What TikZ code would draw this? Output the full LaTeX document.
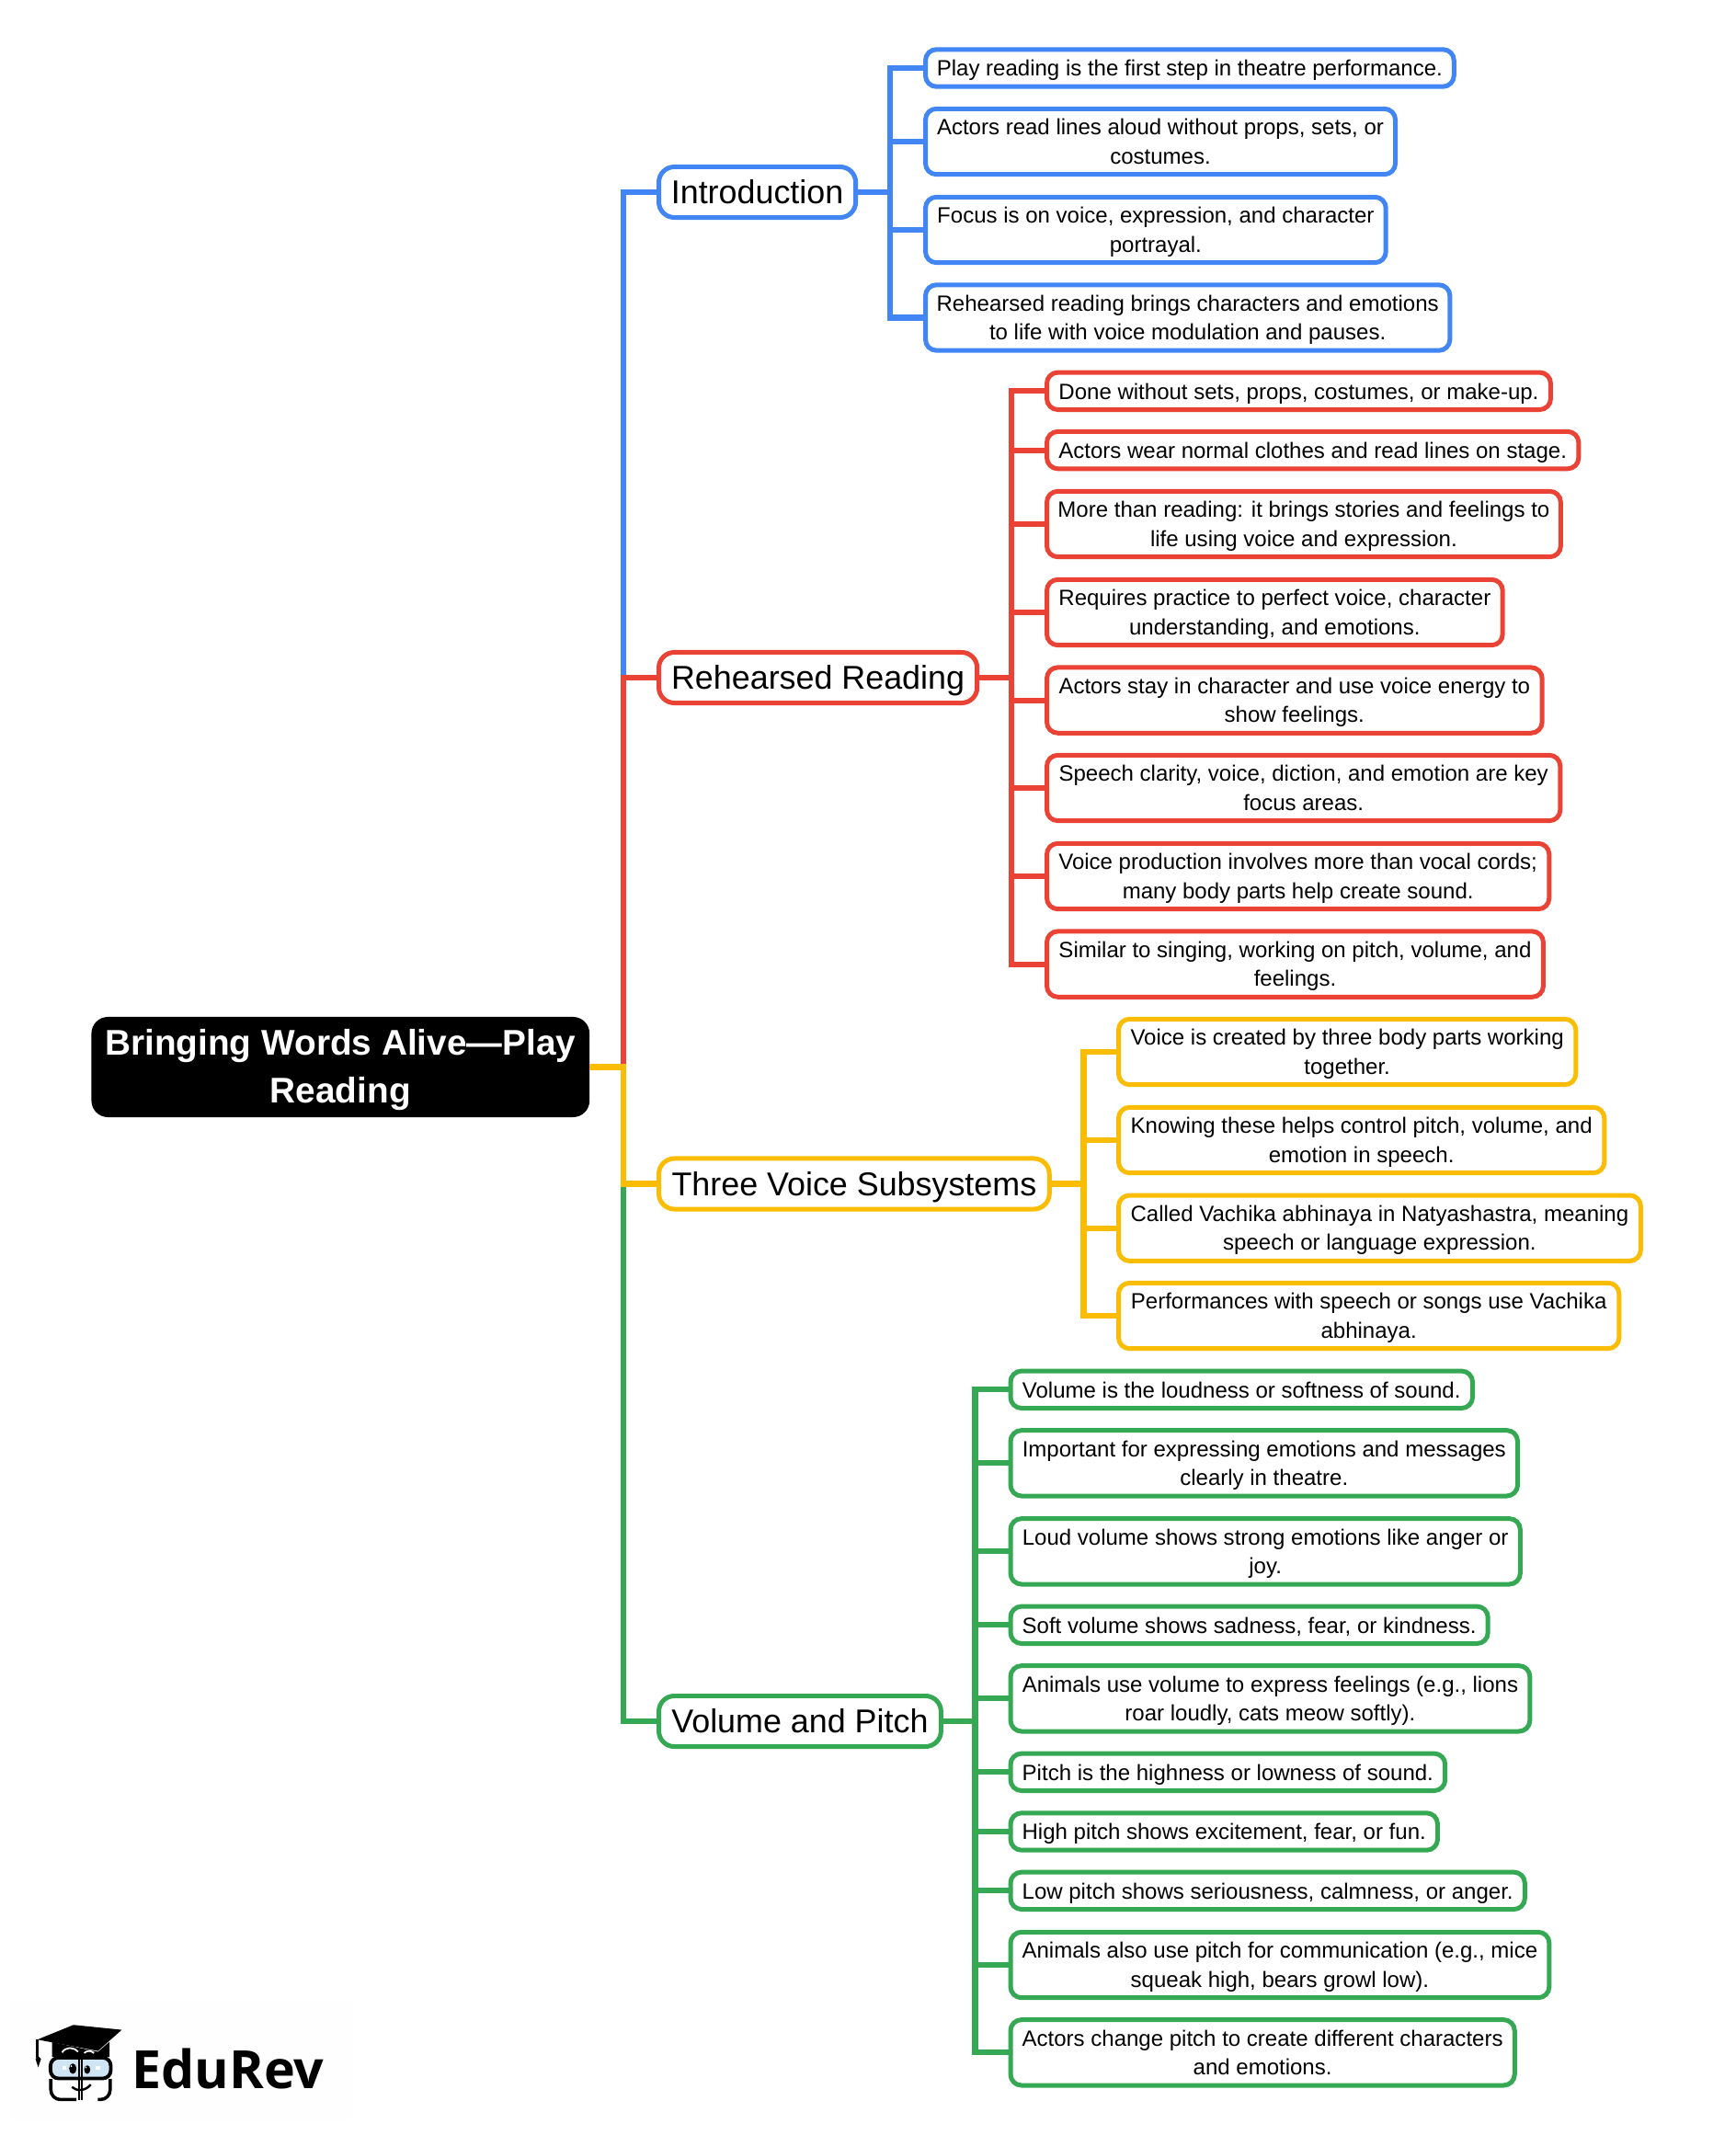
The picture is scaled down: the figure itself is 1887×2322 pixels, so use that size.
\documentclass[tikz,border=0pt]{standalone}
\usepackage{fontspec}
\setmainfont{Liberation Sans}
\newfontfamily\logofont{Open Sans}
\definecolor{introcolor}{HTML}{4285F4}
\definecolor{rehearsedcolor}{HTML}{EA4335}
\definecolor{voicecolor}{HTML}{FBBC04}
\definecolor{volumecolor}{HTML}{34A853}
\definecolor{glasscolor}{HTML}{CFE5F3}

\begin{document}
\begin{tikzpicture}[x=0.01cm, y=-0.01cm,
		wd/.style={minimum width=#1*0.28453pt},
		box/.style={draw, anchor=west, outer sep=0pt, inner sep=0pt, align=center, line width=1.42pt},
		leaf/.style={box, rounded corners=3.4pt, minimum height=11.5pt, font=\fontsize{6.83}{8.85}\selectfont,
			execute at begin node={\rule{0pt}{7pt}}, execute at end node={\rule[-2pt]{0pt}{2pt}}},
		leaftwo/.style={leaf, minimum height=20.3pt, execute at begin node={\rule{0pt}{15.7pt}}},
		branch/.style={box, rounded corners=4.8pt, minimum height=15.65pt, font=\fontsize{10.2}{12}\selectfont,
			execute at begin node={\rule{0pt}{10.3pt}}, execute at end node={\rule[-3pt]{0pt}{3pt}}},
		wire/.style={line width=1.75pt}]
	\useasboundingbox (0, 0) rectangle (1887, 2322);

	\node [fill=black, text=white, outer sep=0pt, inner sep=0pt, align=center, rounded corners=5.1pt, wd=541.4, minimum height=31pt, font=\bfseries\fontsize{11.03}{14.6}\selectfont,
		execute at begin node={\rule{0pt}{25.9pt}}, execute at end node={\rule[-4pt]{0pt}{4pt}}] (root) at (370.3, 1160.5) {Bringing Words Alive—Play\\Reading};
	\coordinate (trunk) at (678, 1160.5);

	\node [branch, draw=introcolor, wd=214] (intro) at (716.5, 209) {Introduction};
	\node [branch, draw=rehearsedcolor, wd=346] (rehearsed) at (716.5, 737) {Rehearsed Reading};
	\node [branch, draw=voicecolor, wd=424.5] (voice) at (716.5, 1287.5) {Three Voice Subsystems};
	\node [branch, draw=volumecolor, wd=306.7] (volume) at (716.5, 1872) {Volume and Pitch};

	\coordinate (introbus) at (968, 209);
	\coordinate (rehearsedbus) at (1100, 737);
	\coordinate (voicebus) at (1178.5, 1287.5);
	\coordinate (volumebus) at (1060.5, 1872);

	\node [leaf, draw=introcolor, wd=574.4] (intro1) at (1006.5, 74) {Play reading is the first step in theatre performance.};
	\node [leaftwo, draw=introcolor, wd=510.7] (intro2) at (1006.5, 154) {Actors read lines aloud without props, sets, or\\costumes.};
	\node [leaftwo, draw=introcolor, wd=500.4] (intro3) at (1006.5, 250) {Focus is on voice, expression, and character\\portrayal.};
	\node [leaftwo, draw=introcolor, wd=570] (intro4) at (1006.5, 345.5) {Rehearsed reading brings characters and emotions\\to life with voice modulation and pauses.};

	\node [leaf, draw=rehearsedcolor, wd=547.6] (rehearsed1) at (1138.5, 425.3) {Done without sets, props, costumes, or make-up.};
	\node [leaf, draw=rehearsedcolor, wd=578] (rehearsed2) at (1138.5, 489.6) {Actors wear normal clothes and read lines on stage.};
	\node [leaftwo, draw=rehearsedcolor, wd=558.5] (rehearsed3) at (1138.5, 570) {More than reading: it brings stories and feelings to\\life using voice and expression.};
	\node [leaftwo, draw=rehearsedcolor, wd=495.4] (rehearsed4) at (1138.5, 666) {Requires practice to perfect voice, character\\understanding, and emotions.};
	\node [leaftwo, draw=rehearsedcolor, wd=538.3] (rehearsed5) at (1138.5, 761.6) {Actors stay in character and use voice energy to\\show feelings.};
	\node [leaftwo, draw=rehearsedcolor, wd=558] (rehearsed6) at (1138.5, 857) {Speech clarity, voice, diction, and emotion are key\\focus areas.};
	\node [leaftwo, draw=rehearsedcolor, wd=546] (rehearsed7) at (1138.5, 953) {Voice production involves more than vocal cords;\\many body parts help create sound.};
	\node [leaftwo, draw=rehearsedcolor, wd=539.6] (rehearsed8) at (1138.5, 1048.6) {Similar to singing, working on pitch, volume, and\\feelings.};

	\node [leaftwo, draw=voicecolor, wd=497] (voice1) at (1216.5, 1144) {Voice is created by three body parts working\\together.};
	\node [leaftwo, draw=voicecolor, wd=528] (voice2) at (1216.5, 1240) {Knowing these helps control pitch, volume, and\\emotion in speech.};
	\node [leaftwo, draw=voicecolor, wd=567.5] (voice3) at (1216.5, 1335.7) {Called Vachika abhinaya in Natyashastra, meaning\\speech or language expression.};
	\node [leaftwo, draw=voicecolor, wd=544] (voice4) at (1216.5, 1431) {Performances with speech or songs use Vachika\\abhinaya.};

	\node [leaf, draw=volumecolor, wd=502.2] (volume1) at (1099, 1511.3) {Volume is the loudness or softness of sound.};
	\node [leaftwo, draw=volumecolor, wd=551.2] (volume2) at (1099, 1591.3) {Important for expressing emotions and messages\\clearly in theatre.};
	\node [leaftwo, draw=volumecolor, wd=554] (volume3) at (1099, 1687.3) {Loud volume shows strong emotions like anger or\\joy.};
	\node [leaf, draw=volumecolor, wd=518.9] (volume4) at (1099, 1767.3) {Soft volume shows sadness, fear, or kindness.};
	\node [leaftwo, draw=volumecolor, wd=564.5] (volume5) at (1099, 1847.3) {Animals use volume to express feelings (e.g., lions\\roar loudly, cats meow softly).};
	\node [leaf, draw=volumecolor, wd=472.4] (volume6) at (1099, 1927.3) {Pitch is the highness or lowness of sound.};
	\node [leaf, draw=volumecolor, wd=464.2] (volume7) at (1099, 1992) {High pitch shows excitement, fear, or fun.};
	\node [leaf, draw=volumecolor, wd=559] (volume8) at (1099, 2056.3) {Low pitch shows seriousness, calmness, or anger.};
	\node [leaftwo, draw=volumecolor, wd=585.5] (volume9) at (1099, 2137) {Animals also use pitch for communication (e.g., mice\\squeak high, bears growl low).};
	\node [leaftwo, draw=volumecolor, wd=547.9] (volume10) at (1099, 2232.3) {Actors change pitch to create different characters\\and emotions.};

	\draw [wire, introcolor] (root.east) -- (trunk) |- (intro.west);
	\draw [wire, rehearsedcolor] (root.east) -- (trunk) |- (rehearsed.west);
	\draw [wire, volumecolor] (root.east) -- (trunk) |- (volume.west);
	\draw [wire, voicecolor] (root.east) -- (trunk) |- (voice.west);

	\draw [wire, introcolor] (intro.east) -- (introbus) |- (intro1.west);
	\draw [wire, introcolor] (intro.east) -- (introbus) |- (intro2.west);
	\draw [wire, introcolor] (intro.east) -- (introbus) |- (intro3.west);
	\draw [wire, introcolor] (intro.east) -- (introbus) |- (intro4.west);

	\draw [wire, rehearsedcolor] (rehearsed.east) -- (rehearsedbus) |- (rehearsed1.west);
	\draw [wire, rehearsedcolor] (rehearsed.east) -- (rehearsedbus) |- (rehearsed2.west);
	\draw [wire, rehearsedcolor] (rehearsed.east) -- (rehearsedbus) |- (rehearsed3.west);
	\draw [wire, rehearsedcolor] (rehearsed.east) -- (rehearsedbus) |- (rehearsed4.west);
	\draw [wire, rehearsedcolor] (rehearsed.east) -- (rehearsedbus) |- (rehearsed5.west);
	\draw [wire, rehearsedcolor] (rehearsed.east) -- (rehearsedbus) |- (rehearsed6.west);
	\draw [wire, rehearsedcolor] (rehearsed.east) -- (rehearsedbus) |- (rehearsed7.west);
	\draw [wire, rehearsedcolor] (rehearsed.east) -- (rehearsedbus) |- (rehearsed8.west);

	\draw [wire, voicecolor] (voice.east) -- (voicebus) |- (voice1.west);
	\draw [wire, voicecolor] (voice.east) -- (voicebus) |- (voice2.west);
	\draw [wire, voicecolor] (voice.east) -- (voicebus) |- (voice3.west);
	\draw [wire, voicecolor] (voice.east) -- (voicebus) |- (voice4.west);

	\draw [wire, volumecolor] (volume.east) -- (volumebus) |- (volume1.west);
	\draw [wire, volumecolor] (volume.east) -- (volumebus) |- (volume2.west);
	\draw [wire, volumecolor] (volume.east) -- (volumebus) |- (volume3.west);
	\draw [wire, volumecolor] (volume.east) -- (volumebus) |- (volume4.west);
	\draw [wire, volumecolor] (volume.east) -- (volumebus) |- (volume5.west);
	\draw [wire, volumecolor] (volume.east) -- (volumebus) |- (volume6.west);
	\draw [wire, volumecolor] (volume.east) -- (volumebus) |- (volume7.west);
	\draw [wire, volumecolor] (volume.east) -- (volumebus) |- (volume8.west);
	\draw [wire, volumecolor] (volume.east) -- (volumebus) |- (volume9.west);
	\draw [wire, volumecolor] (volume.east) -- (volumebus) |- (volume10.west);

	\begin{scope}[shift={(0, 2150)}, x=0.003333cm, y=-0.003333cm]
		\fill [black!0.5] (30, 75) rectangle (1150, 470);
		\node [anchor=base west, inner sep=0pt, font=\logofont\bfseries\fontsize{16.3}{17}\selectfont] (edurev) at (428, 365) {EduRev};
		\fill (122, 205) -- (240, 157) -- (398, 173) -- (320, 242) -- cycle;
		\fill (170, 213) -- (320, 245) -- (358, 212) -- (358, 262) -- (170, 262) -- cycle;
		\draw [line width=0.7pt] (122, 205) -- (122, 265);
		\fill (116, 268) -- (125, 259) -- (134, 268) -- (125, 296) -- cycle;
		\draw [white, line width=0.5pt] (203, 247) .. controls (215, 228) and (240, 228) .. (255, 245);
		\draw [white, line width=0.5pt] (275, 249) .. controls (285, 240) and (297, 240) .. (307, 249);
		\draw [line width=1.1pt, fill=glasscolor, rounded corners=2.5pt] (165, 264) rectangle (362, 332);
		\draw [line width=1pt, rounded corners=3pt] (250, 401) -- (166, 401) -- (166, 334);
		\draw [line width=1pt, rounded corners=3pt] (320, 401) -- (360, 401) -- (360, 334);
		\draw [line width=0.5pt] (258, 255) -- (258, 404);
		\draw [line width=0.5pt] (268, 255) -- (268, 404);
		\fill (238, 300) ellipse [x radius=12, y radius=17];
		\fill (285, 303) ellipse [x radius=10, y radius=14];
		\fill [white] (233, 292) circle [radius=3];
		\fill [white] (281, 296) circle [radius=2.5];
		\fill [white] (203, 290) rectangle (217, 303);
		\fill [white] (313, 290) rectangle (327, 303);
		\draw [line width=0.7pt] (235, 360) .. controls (250, 374) and (278, 374) .. (297, 352);
	\end{scope}
\end{tikzpicture}
\end{document}
